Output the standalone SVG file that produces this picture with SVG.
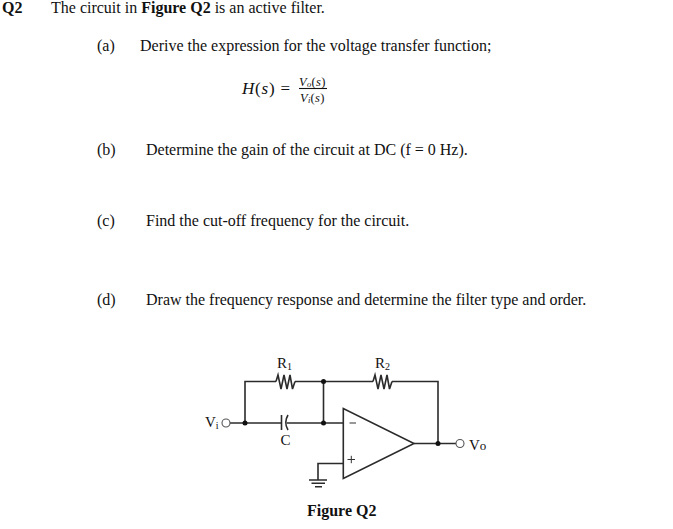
<svg xmlns="http://www.w3.org/2000/svg" width="673" height="529" viewBox="0 0 673 529">
<style>
text{font-family:"Liberation Serif","Times New Roman",serif;font-size:16px;fill:#111}
.b{font-weight:bold}
.c{font-size:15px}
.e{font-style:italic}
.e tspan.n{font-style:normal}
.w{fill:none;stroke:#2b2b2b;stroke-width:1.6}
.d{fill:#111}
.o{fill:#fff;stroke:#555;stroke-width:1.1}
</style>
<rect width="673" height="529" fill="#fff"/>
<g id="question-text">
<text class="b" x="2" y="13">Q2</text>
<text x="51" y="13">The circuit in <tspan class="b">Figure Q2</tspan> is an active filter.</text>
<text x="97" y="51">(a)</text>
<text x="140" y="51">Derive the expression for the voltage transfer function;</text>
<text x="97" y="155">(b)</text>
<text x="146" y="155">Determine the gain of the circuit at DC (f = 0 Hz).</text>
<text x="97" y="226">(c)</text>
<text x="146" y="226">Find the cut-off frequency for the circuit.</text>
<text x="97" y="305">(d)</text>
<text x="146" y="305">Draw the frequency response and determine the filter type and order.</text>
</g>
<g id="equation">
<text class="e" x="242" y="94" font-size="17" letter-spacing="0.800" style="font-size:17px">H<tspan class="n">(</tspan>s<tspan class="n">)</tspan><tspan class="n" dx="5">=</tspan></text>
<text class="e" x="299" y="85.500" style="font-size:12.500px" letter-spacing="0.300">V<tspan style="font-size:8.500px" dy="1">o</tspan><tspan class="n" dy="-1">(</tspan>s<tspan class="n">)</tspan></text>
<line x1="299" y1="88.500" x2="327" y2="88.500" stroke="#111" stroke-width="1.100"/>
<text class="e" x="300" y="102" style="font-size:12.500px" letter-spacing="0.300">V<tspan style="font-size:8.500px" dy="1">i</tspan><tspan class="n" dy="-1">(</tspan>s<tspan class="n">)</tspan></text>
</g>
<g id="connectors">
<path class="w" d="M230 423H281.500M286.500 423H343M245 423V381.500H276M295 381.500H373M392 381.500H438V443.500M323.500 381.500V423M414 443.500H456M343 463.500H318V480"/>
<path class="w" d="M309 480H327M311.500 483.300H325M315 486.700H322"/>
</g>
<g id="R1"><path class="w" d="M276 381.500L278 375L281 389L284 375L287 389L290 375L292.500 389L295 381.500"/><text class="c" x="277" y="368">R<tspan style="font-size:10px" dy="1.500">1</tspan></text></g>
<g id="R2"><path class="w" d="M373 381.500L375 375L378 389L381 375L384 389L387 375L389.500 389L392 381.500"/><text class="c" x="375" y="368">R<tspan style="font-size:10px" dy="1.500">2</tspan></text></g>
<g id="C"><path class="w" d="M281.500 415V430M288 415Q283.500 422.500 288 430"/><text class="c" x="280.500" y="445">C</text></g>
<g id="opamp"><path fill="#fff" stroke="#2b2b2b" stroke-width="1.600" d="M343.300 408.500V478.500L414 443.500Z"/><path stroke="#333" stroke-width="1" d="M349.500 423H356M347.500 459.500H355M351.300 455.800V463.200"/></g>
<g id="junctions"><circle class="d" cx="245" cy="423" r="2.500"/><circle class="d" cx="323.500" cy="423" r="2.500"/><circle class="d" cx="323.500" cy="381.500" r="2.500"/><circle class="d" cx="438" cy="443.500" r="2.500"/></g>
<g id="Vi"><circle class="o" cx="226" cy="423" r="4"/><text class="c" x="205" y="427">V<tspan style="font-size:10px" dy="1.500">i</tspan></text></g>
<g id="Vo"><circle class="o" cx="460" cy="443.500" r="4"/><text class="c" x="469" y="449.500">V<tspan style="font-size:13px">o</tspan></text></g>
<g id="caption"><text class="b" x="307" y="516">Figure Q2</text></g>
</svg>
